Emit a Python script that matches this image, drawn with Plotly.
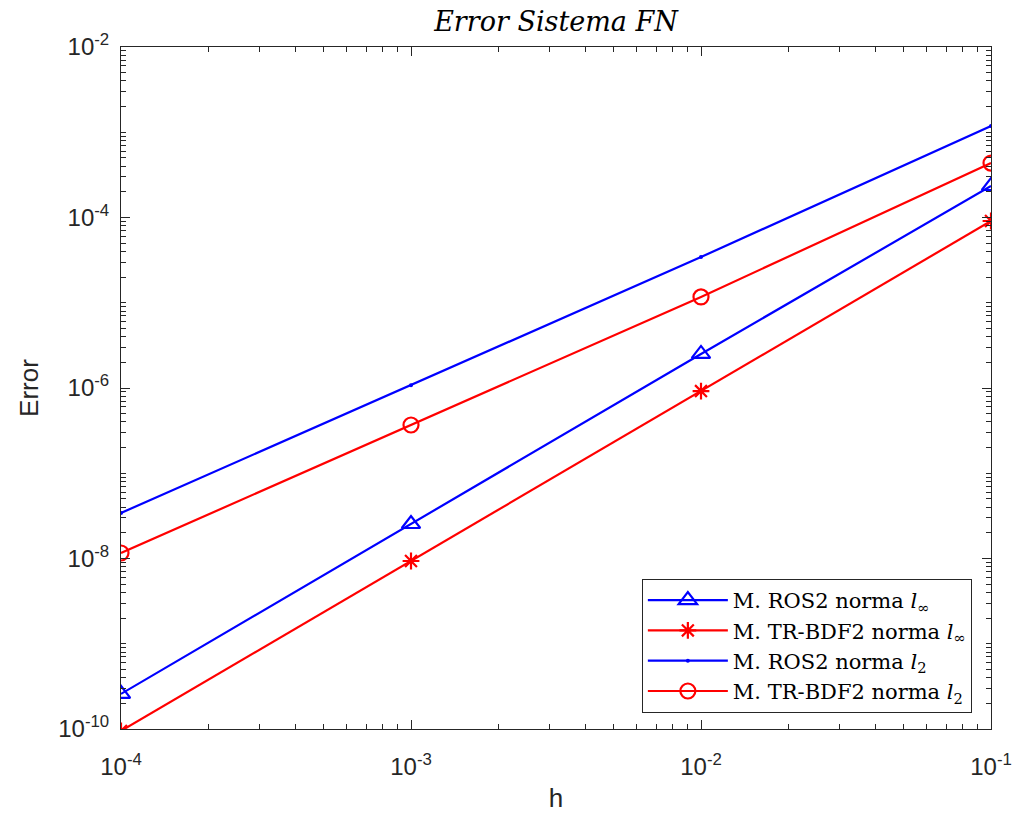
import numpy as np
import plotly.graph_objects as go

h = [1e-4, 1e-3, 1e-2, 1e-1]
ros2_linf = [2.58e-10, 2.54e-8, 2.51e-6, 2.34e-4]
trbdf2_linf = [9.5e-11, 9.35e-9, 9.2e-7, 9.1e-5]
ros2_l2 = [3.42e-8, 1.08e-6, 3.44e-5, 1.18e-3]
trbdf2_l2 = [1.16e-8, 3.68e-7, 1.17e-5, 4.35e-4]

x_tickvals = [1e-4, 1e-3, 1e-2, 1e-1]
x_ticktext = ["10<sup>-4</sup>", "10<sup>-3</sup>", "10<sup>-2</sup>", "10<sup>-1</sup>"]
y_tickvals = [1e-10, 1e-8, 1e-6, 1e-4, 1e-2]
y_ticktext = ["10<sup>-10</sup>", "10<sup>-8</sup>", "10<sup>-6</sup>", "10<sup>-4</sup>", "10<sup>-2</sup>"]

def minor_vals(lo, hi):
    v = []
    for e in range(lo, hi):
        for d in range(1, 10):
            v.append(d * 10.0 ** e)
    v.append(10.0 ** hi)
    return v

BLUE = "#0000ff"
RED = "#ff0000"
LW = 2.2

fig = go.Figure()
fig.add_trace(go.Scatter(x=h, y=ros2_linf, mode="lines+markers",
                         name="M. ROS2 norma <i>l</i><sub>∞</sub>",
                         line=dict(color=BLUE, width=LW),
                         marker=dict(symbol="triangle-up-open", size=16, color=BLUE, line=dict(width=2.2, color=BLUE))))
fig.add_trace(go.Scatter(x=h, y=trbdf2_linf, mode="lines+markers",
                         name="M. TR-BDF2 norma <i>l</i><sub>∞</sub>",
                         line=dict(color=RED, width=LW),
                         marker=dict(symbol="asterisk-open", size=14, color=RED, line=dict(width=2.2, color=RED))))
fig.add_trace(go.Scatter(x=h, y=ros2_l2, mode="lines+markers",
                         name="M. ROS2 norma <i>l</i><sub>2</sub>",
                         line=dict(color=BLUE, width=LW),
                         marker=dict(symbol="circle", size=4, color=BLUE)))
fig.add_trace(go.Scatter(x=h, y=trbdf2_l2, mode="lines+markers",
                         name="M. TR-BDF2 norma <i>l</i><sub>2</sub>",
                         line=dict(color=RED, width=LW),
                         marker=dict(symbol="circle-open", size=15, color=RED, line=dict(width=2.2, color=RED))))

axcol = "#262626"
fig.update_layout(
    width=1014, height=820,
    margin=dict(l=121, r=23, t=47, b=91, autoexpand=False),
    paper_bgcolor="white", plot_bgcolor="white",
    font=dict(family="Liberation Sans, Arial, sans-serif", color=axcol),
    title=dict(text="<i>Error Sistema FN</i>", x=0.5, xref="paper", xanchor="center",
               y=1 - 22 / 820, yref="container", yanchor="middle",
               font=dict(family="DejaVu Serif, serif", size=27, color="black")),
    xaxis=dict(type="log", range=[-4, -1], tickmode="array", tickvals=x_tickvals, ticktext=x_ticktext,
               ticks="inside", ticklen=9, tickwidth=1, tickcolor=axcol,
               showline=True, linecolor=axcol, linewidth=1, mirror="ticks",
               showgrid=False, zeroline=False, automargin=False,
               ticklabeloverflow="allow",
               tickfont=dict(size=24, color=axcol), ticklabelstandoff=16,
               minor=dict(tickmode="array", tickvals=minor_vals(-4, -1), ticks="inside", ticklen=5,
                          tickcolor=axcol, showgrid=False),
               title=dict(text="h", font=dict(size=26, color=axcol), standoff=10)),
    yaxis=dict(type="log", range=[-10, -2], tickmode="array", tickvals=y_tickvals, ticktext=y_ticktext,
               ticks="inside", ticklen=9, tickwidth=1, tickcolor=axcol,
               showline=True, linecolor=axcol, linewidth=1, mirror="ticks",
               showgrid=False, zeroline=False, automargin=False,
               ticklabeloverflow="allow",
               tickfont=dict(size=24, color=axcol), ticklabelstandoff=6,
               minor=dict(tickmode="array", tickvals=minor_vals(-10, -2), ticks="inside", ticklen=5,
                          tickcolor=axcol, showgrid=False),
               title=dict(text="Error", font=dict(size=26, color=axcol), standoff=12)),
    legend=dict(x=0.978, y=0.0235, xanchor="right", yanchor="bottom",
                bgcolor="white", bordercolor=axcol, borderwidth=1,
                font=dict(family="DejaVu Serif, serif", size=21, color="black"),
                itemwidth=80, tracegroupgap=0),
    showlegend=True,
)

fig.write_html("out.html")
